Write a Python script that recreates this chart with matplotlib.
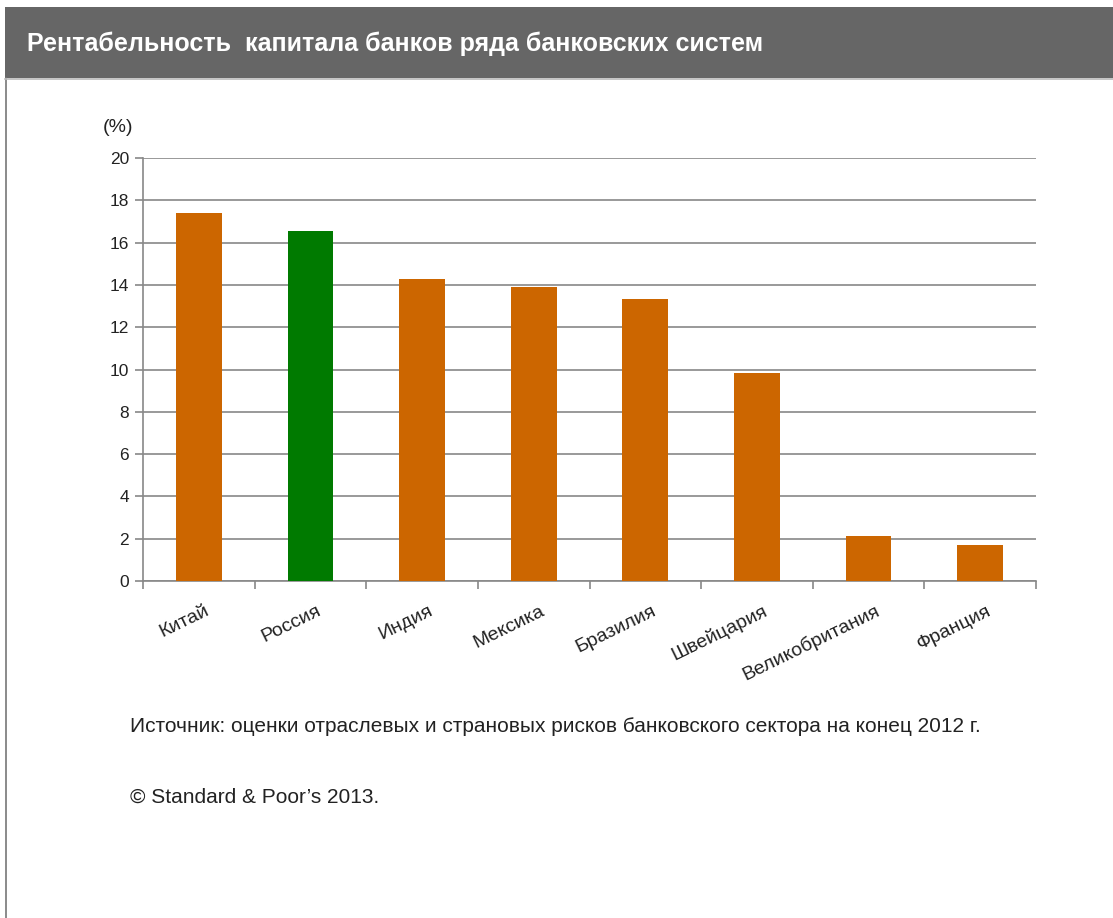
import matplotlib.pyplot as plt
from matplotlib.patches import Rectangle
from matplotlib.lines import Line2D

# Рентабельность капитала банков, %
countries = ['Китай', 'Россия', 'Индия', 'Мексика', 'Бразилия',
             'Швейцария', 'Великобритания', 'Франция']
roe = [17.4, 16.55, 14.28, 13.9, 13.33, 9.83, 2.13, 1.7]
colors = ['#CC6600', '#007A00', '#CC6600', '#CC6600', '#CC6600',
          '#CC6600', '#CC6600', '#CC6600']
yticks = [0, 2, 4, 6, 8, 10, 12, 14, 16, 18, 20]

plt.rcParams['font.family'] = ['Liberation Sans', 'DejaVu Sans']

W, H = 1113, 918
fig = plt.figure(figsize=(W / 100, H / 100), dpi=100)

# серая плашка заголовка и рамка слева
fig.patches.append(Rectangle((5 / W, 1 - 78 / H), 1 - 5 / W, 71 / H,
                             transform=fig.transFigure, facecolor='#666666',
                             edgecolor='none', zorder=0))
fig.lines.append(Line2D([6 / W, 6 / W], [0, 1 - 78 / H], transform=fig.transFigure,
                        color='#777777', lw=1.2))
fig.lines.append(Line2D([5 / W, 1], [1 - 79 / H, 1 - 79 / H], transform=fig.transFigure,
                        color='#BBBBBB', lw=1.2))
fig.text(27 / W, 1 - 44 / H, 'Рентабельность  капитала банков ряда банковских систем',
         color='white', fontsize=18, fontweight='bold', va='center', ha='left')

ax = fig.add_axes([143 / W, 1 - 581 / H, (1036 - 143) / W, (581 - 158) / H])
x = range(len(countries))
ax.bar(x, roe, width=0.41, color=colors, zorder=3)

ax.set_xlim(-0.5, len(countries) - 0.5)
ax.set_ylim(0, 20)
ax.set_yticks(yticks)
ax.set_yticklabels([str(v) for v in yticks], fontsize=12.5, color='#222222')
ax.yaxis.grid(True, color='#888888', lw=1.2, zorder=0)
ax.tick_params(axis='y', length=6, width=1.2, color='#888888', pad=4)

ax.set_xticks([i - 0.5 for i in range(len(countries) + 1)])
ax.set_xticklabels([])
ax.tick_params(axis='x', length=6, width=1.2, color='#888888')
for i, c in enumerate(countries):
    ax.annotate(c, xy=(i, 0), xycoords='data', xytext=(7, -21),
                textcoords='offset points', rotation=26, ha='right', va='center',
                rotation_mode='anchor', fontsize=14, color='#222222')

for s in ['top', 'right']:
    ax.spines[s].set_visible(False)
for s in ['left', 'bottom']:
    ax.spines[s].set_color('#888888')
    ax.spines[s].set_linewidth(1.2)

fig.text(103 / W, 1 - 127 / H, '(%)', fontsize=14, color='#222222', va='center')
fig.text(130 / W, 1 - 727 / H,
         'Источник: оценки отраслевых и страновых рисков банковского сектора на конец 2012 г.',
         fontsize=15, color='#222222', va='center')
fig.text(130 / W, 1 - 797 / H, '© Standard & Poor\u2019s 2013.', fontsize=15,
         color='#222222', va='center')

plt.savefig('out.png', dpi=100)
